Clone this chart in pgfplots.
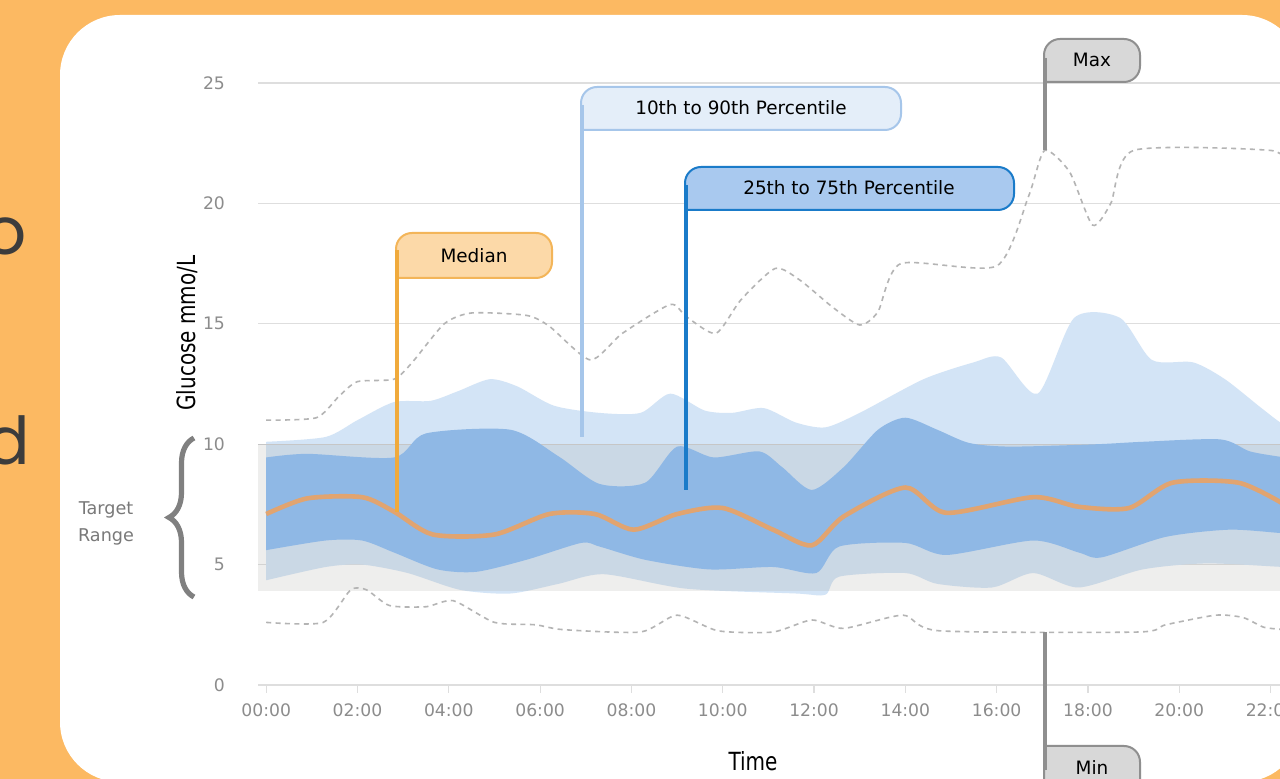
\documentclass[border=0pt]{standalone}
\usepackage{fontspec}
\setmainfont{DejaVu Sans}
\newfontfamily\condfont[FakeStretch=0.8]{DejaVu Sans}
\newfontfamily\bigfont{Poppins}
\usepackage{pgfplots}
\pgfplotsset{compat=1.18}
\usetikzlibrary{decorations.pathreplacing}

\definecolor{bgorange}{RGB}{252,185,98}
\definecolor{textdark}{RGB}{60,60,60}
\definecolor{tickgray}{RGB}{140,140,140}
\definecolor{gridgray}{RGB}{222,222,222}
\definecolor{lightband}{RGB}{211,228,246}
\definecolor{darkband}{RGB}{143,184,229}
\definecolor{targetgray}{RGB}{165,165,160}
\definecolor{medianline}{RGB}{225,164,112}
\definecolor{extremegray}{RGB}{180,180,180}
\definecolor{medbox}{RGB}{252,217,168}
\definecolor{medborder}{RGB}{243,181,89}
\definecolor{medstick}{RGB}{240,170,60}
\definecolor{tenbox}{RGB}{228,238,249}
\definecolor{tenborder}{RGB}{166,198,234}
\definecolor{qbox}{RGB}{169,201,239}
\definecolor{qborder}{RGB}{26,123,201}
\definecolor{mmbox}{RGB}{216,216,216}
\definecolor{mmborder}{RGB}{143,143,143}
\definecolor{bracegray}{RGB}{128,128,128}

\begin{document}
\begin{tikzpicture}
\useasboundingbox (0pt,0pt) rectangle (640pt,-389.5pt);
% background and panel (pixel coordinates)
\begin{scope}[x=0.5pt,y=-0.5pt]
  \fill[bgorange] (0,0) rectangle (1280,779);
  \fill[white, rounded corners=30pt] (60,15) rectangle (1302,782);
  \node[anchor=base east, inner sep=0pt, text=textdark, font=\bigfont\fontsize{33}{33}\selectfont] at (27,255) {o};
  \node[anchor=base east, inner sep=0pt, text=textdark, font=\bigfont\fontsize{33}{33}\selectfont] at (31,465) {d};
\end{scope}

\begin{axis}[
  at={(129pt,-342.5pt)}, anchor=south west,
  scale only axis, width=511.3pt, height=301pt,
  xmin=-0.18, xmax=22.22, ymin=0, ymax=25,
  axis line style={draw=none},
  xtick={0,2,...,22},
  xticklabels={00:00,02:00,04:00,06:00,08:00,10:00,12:00,14:00,16:00,18:00,20:00,22:00},
  ytick={0,5,...,25},
  xtick pos=left, ytick pos=left,
  tick align=outside,
  major tick length=4pt,
  xtick style={draw=gridgray, line width=0.6pt},
  ytick style={draw=none},
  ymajorgrids,
  grid style={draw=gridgray, line width=0.6pt},
  /pgf/number format/assume math mode=true,
  ticklabel style={font=\fontsize{8.6}{10}\selectfont, text=tickgray},
  yticklabel style={xshift=-9pt},
  xticklabel style={yshift=-2pt},
]
% 10th-90th percentile band: 90th forward, then 10th backward
\addplot[fill=lightband, draw=none, smooth, tension=0.45] coordinates {
 (0,10.1) (1.3,10.3) (2.0,11.0) (2.8,11.75) (3.6,11.8) (4.2,12.2) (4.9,12.7) (5.5,12.4)
 (6.3,11.6) (7.3,11.3) (8.2,11.3) (8.85,12.1) (9.6,11.4) (10.2,11.3) (10.9,11.5) (11.6,10.9)
 (12.25,10.7) (13.0,11.3) (14.4,12.7) (15.5,13.4) (16.1,13.6) (16.9,12.1) (17.7,15.25)
 (18.7,15.25) (19.4,13.5) (20.3,13.4) (21.0,12.7) (21.8,11.5) (22.3,10.8) (22.8,10.5)
 (22.8,4.9) (22.3,4.9) (20.6,5.05) (19.2,4.8) (17.8,4.05) (16.8,4.65) (15.9,4.05) (14.7,4.2)
 (14.0,4.65) (12.55,4.5) (12.25,3.75) (11.6,3.8) (9.2,4.0) (7.4,4.6) (6.4,4.2) (5.35,3.8)
 (4.25,3.95) (3.1,4.65) (2.1,5.0) (1.3,4.9) (0,4.35)};
% target range
\addplot[fill=targetgray, fill opacity=0.19, draw=none] coordinates {(-0.18,3.9) (22.22,3.9) (22.22,10) (-0.18,10)};
\addplot[draw=gray!45, line width=0.6pt] coordinates {(-0.18,10) (22.22,10)};
% 25th-75th percentile band: 75th forward, then 25th backward
\addplot[fill=darkband, draw=none, smooth, tension=0.45] coordinates {
 (0,9.45) (0.9,9.6) (2.8,9.45) (3.5,10.45) (5.35,10.6) (6.4,9.5) (7.3,8.35) (8.3,8.4)
 (9.0,9.9) (9.8,9.45) (10.8,9.7) (11.3,9.05) (11.95,8.1) (12.65,9.05) (13.4,10.6)
 (14.0,11.1) (14.7,10.6) (15.4,10.05) (16.3,9.9) (18.2,10.0) (19.2,10.1) (20.9,10.2)
 (21.55,9.7) (22.3,9.45) (22.8,9.3)
 (22.8,6.3) (22.3,6.3) (21.1,6.45) (19.7,6.15) (18.3,5.3) (17.8,5.5) (16.8,6.0) (14.9,5.4)
 (14.0,5.9) (12.55,5.75) (12.05,4.65) (11.1,4.9) (9.7,4.8) (8.3,5.2) (7.3,5.75) (6.9,5.9)
 (5.7,5.2) (4.6,4.7) (3.75,4.8) (2.8,5.5) (2.1,6.0) (1.3,6.0) (0,5.6)};
% median
\addplot[draw=medianline, line width=2.3pt, smooth, tension=0.45] coordinates {
 (0,7.1) (0.9,7.75) (2.1,7.8) (2.8,7.2) (3.65,6.25) (5.0,6.25) (6.2,7.1) (7.2,7.1)
 (8.05,6.45) (9.0,7.1) (10.0,7.35) (11.1,6.45) (11.95,5.8) (12.65,7.0) (14.0,8.2)
 (14.9,7.15) (16.8,7.8) (17.8,7.4) (18.9,7.35) (19.85,8.4) (21.3,8.4) (22.3,7.5)};
% max
\addplot[draw=extremegray, line width=0.8pt, dash pattern=on 2.5pt off 2.2pt, smooth, tension=0.4] coordinates {
 (0,11.0) (1.1,11.1) (1.6,12.0) (2.0,12.6) (2.8,12.7) (3.2,13.4) (3.9,15.0) (4.5,15.45)
 (5.7,15.35) (6.2,14.9) (7.1,13.5) (7.8,14.6) (8.85,15.8) (9.2,15.3) (9.85,14.6) (10.4,16.0)
 (11.15,17.3) (11.7,16.8) (12.4,15.7) (13.0,14.95) (13.4,15.5) (13.9,17.5) (16.0,17.4)
 (16.7,20.3) (17.05,22.2) (17.6,21.3) (18.1,19.1) (18.5,20.0) (19.0,22.2) (22.0,22.2) (22.3,21.6)};
% min
\addplot[draw=extremegray, line width=0.8pt, dash pattern=on 2.5pt off 2.2pt, smooth, tension=0.4] coordinates {
 (0,2.6) (1.25,2.6) (1.85,3.95) (2.2,3.95) (2.7,3.3) (3.5,3.25) (4.1,3.5) (5.0,2.6)
 (5.9,2.5) (6.5,2.3) (8.2,2.2) (9.0,2.9) (9.9,2.25) (11.1,2.2) (11.95,2.7) (12.65,2.35)
 (13.95,2.9) (14.75,2.25) (19.1,2.2) (19.7,2.5) (20.8,2.9) (21.4,2.8) (21.85,2.4) (22.3,2.3)};
\end{axis}

% annotations (pixel coordinates)
\begin{scope}[x=0.5pt,y=-0.5pt]
  % axis titles
  \node[rotate=90, font=\condfont\fontsize{12.5}{14}\selectfont, text=black] at (187,333) {Glucose mmo/L};
  \node[font=\condfont\fontsize{12.5}{14}\selectfont, text=black] at (753,761) {Time};
  % target range
  \node[align=center, font=\fontsize{8.8}{13.5}\selectfont, text=gray!95!black, inner sep=0pt] at (106,523) {Target\\Range};
  \draw[decorate, decoration={brace, amplitude=12.5pt}, line width=2.6pt, bracegray] (194,597) -- (194,438);
  % Median
  \filldraw[fill=medbox, draw=medborder, line width=1pt, rounded corners=8pt] (396,278) -- (396,233) -- (552,233) -- (552,278) -- (396,278);
  \draw[medstick, line width=2pt] (397,250) -- (397,512);
  \node[font=\fontsize{9.2}{11}\selectfont] at (474,256) {Median};
  % 10th to 90th
  \filldraw[fill=tenbox, draw=tenborder, line width=1pt, rounded corners=8pt] (581,130) -- (581,87) -- (901,87) -- (901,130) -- (581,130);
  \draw[tenborder, line width=2pt] (582,105) -- (582,437);
  \node[font=\fontsize{9.2}{11}\selectfont] at (741,108) {10th to 90th Percentile};
  % 25th to 75th
  \filldraw[fill=qbox, draw=qborder, line width=1pt, rounded corners=8pt] (685,210) -- (685,167) -- (1014,167) -- (1014,210) -- (685,210);
  \draw[qborder, line width=2pt] (686,185) -- (686,490);
  \node[font=\fontsize{9.2}{11}\selectfont] at (849,188) {25th to 75th Percentile};
  % Max
  \filldraw[fill=mmbox, draw=mmborder, line width=1pt, rounded corners=8pt] (1044,82) -- (1044,39) -- (1140,39) -- (1140,82) -- (1044,82);
  \draw[mmborder, line width=2pt] (1045,58) -- (1045,150);
  \node[font=\fontsize{9.2}{11}\selectfont] at (1092,60) {Max};
  % Min
  \filldraw[fill=mmbox, draw=mmborder, line width=1pt, rounded corners=8pt] (1044,746) -- (1044,800) -- (1140,800) -- (1140,746) -- (1044,746);
  \draw[mmborder, line width=2pt] (1045,632) -- (1045,770);
  \node[font=\fontsize{9.2}{11}\selectfont] at (1092,768) {Min};
\end{scope}
\end{tikzpicture}
\end{document}
